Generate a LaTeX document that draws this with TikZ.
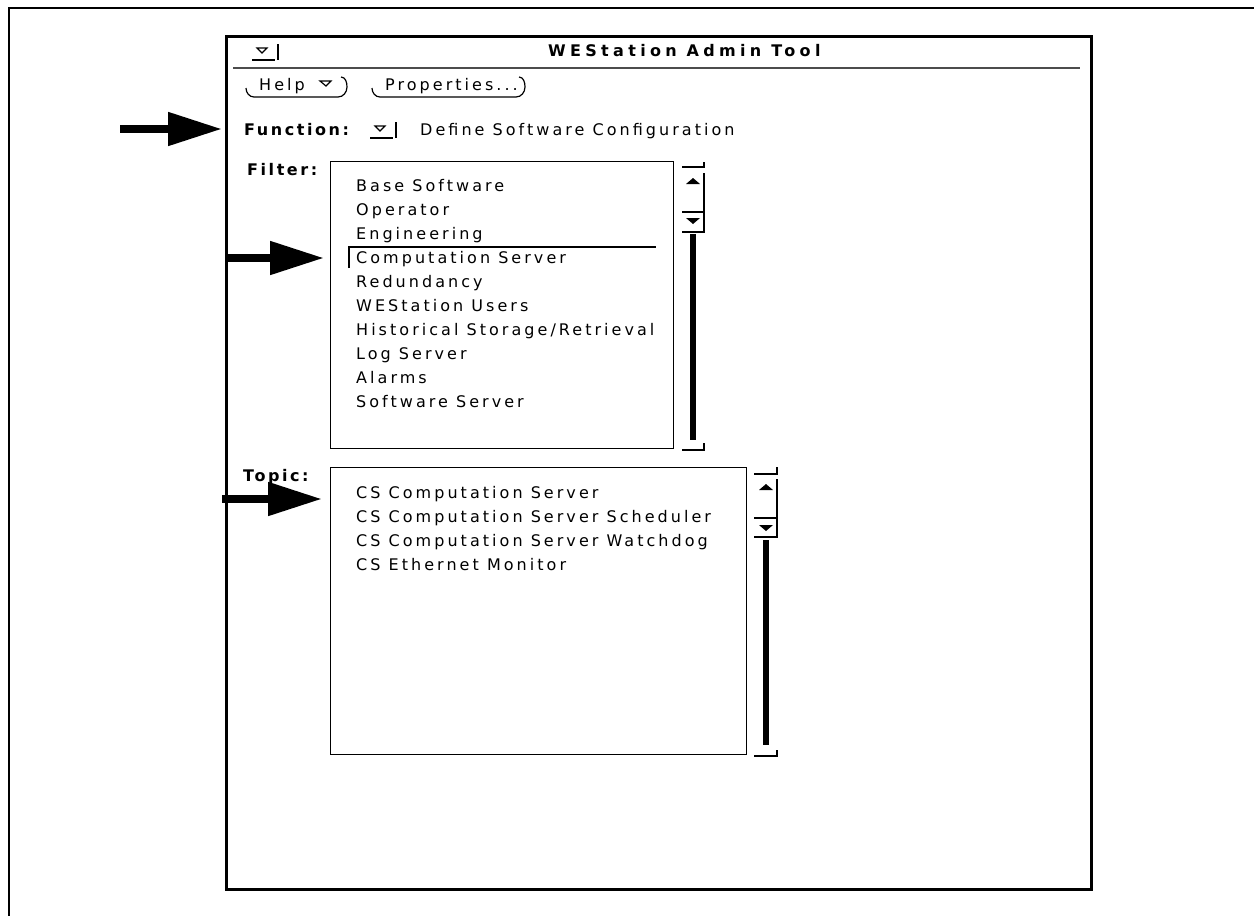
\documentclass[tikz,border=0pt]{standalone}
\usepackage{fontspec}
\usetikzlibrary{arrows.meta}
\newfontfamily\uifont{DejaVu Sans}[LetterSpace=19]
\newfontfamily\uiboldfont{DejaVu Sans Bold}[LetterSpace=16]
\newfontfamily\uititlefont{DejaVu Sans Bold}[LetterSpace=27]

\tikzset{
  uitext/.style={anchor=base west, inner sep=0pt, font=\uifont\fontsize{16}{19}\selectfont},
  uilabel/.style={anchor=base west, inner sep=0pt, font=\uiboldfont\fontsize{16}{19}\selectfont},
  uititle/.style={anchor=base west, inner sep=0pt, font=\uititlefont\fontsize{16}{19}\selectfont},
  listbox/.style={draw, line width=1.2pt, anchor=north west, inner sep=0pt},
  bigarrow/.style={line width=8pt, -{Triangle[length=54pt,width=32pt]}},
  thinline/.style={line width=1.2pt}
}

\newcommand{\menumark}[3]{% x, y, size
  \draw[thinline, shift={(#1,#2)}, scale=#3] (0,18) -- (23,18) (26,2) -- (26,18);
  \draw[thinline, shift={(#1,#2)}, scale=#3] (5,6) -- (15,6) -- (10,11) -- cycle;
}

\begin{document}
\begin{tikzpicture}[x=1pt, y=-1pt]
    \useasboundingbox (0,0) rectangle (1254,916);

    % Page frame
    \draw[line width=2pt] (9,916) -- (9,8) -- (1254,8);

    % Window
    \node[draw, line width=3pt, anchor=north west, inner sep=0pt,
          minimum width=865pt, minimum height=853pt] (win) at (225,35) {};
    \draw[line width=2pt] (227,890) -- (1092,890) -- (1092,37);

    % Title bar
    \menumark{252}{42}{1}
    \node[uititle] (title) at (548,56) {WEStation Admin Tool};
    \draw[line width=1.5pt, black!70] (233,68) -- (1080,68);

    % Buttons
    \node[uitext] (help) at (259,90) {Help};
    \draw[thinline] (320,81) -- (331,81) -- (326,86) -- cycle;
    \draw[thinline] (246,88) to[out=-90, in=180] (254,97) -- (338,97)
        to[out=0, in=-90] (347,87) to[out=90, in=0] (341,77);
    \node[uitext] (props) at (385,90) {Properties...};
    \draw[thinline] (372,88) to[out=-90, in=180] (380,97) -- (516,97)
        to[out=0, in=-90] (525,87) to[out=90, in=0] (519,77);

    % Function line
    \node[uilabel] (fnlbl) at (244,135) {Function:};
    \menumark{370}{120}{1}
    \node[uitext] (fnval) at (420,135) {Define Software Configuration};

    % Filter list
    \node[uilabel] (filterlbl) at (247,175) {Filter:};
    \node[listbox, minimum width=343pt, minimum height=287pt] (filterbox) at (330,161) {};
    \node[uitext] (f1) at (356,191) {Base Software};
    \node[uitext] (f2) at (356,215) {Operator};
    \node[uitext] (f3) at (356,239) {Engineering};
    \node[uitext] (f4) at (356,263) {Computation Server};
    \node[uitext] (f5) at (356,287) {Redundancy};
    \node[uitext] (f6) at (356,311) {WEStation Users};
    \node[uitext] (f7) at (356,335) {Historical Storage/Retrieval};
    \node[uitext] (f8) at (356,359) {Log Server};
    \node[uitext] (f9) at (356,383) {Alarms};
    \node[uitext] (f10) at (356,407) {Software Server};
    \draw[thinline] (349,268) -- (349,247) -- (656,247);

    % Filter scrollbar
    \draw[thinline] (704,162) -- (704,167) -- (682,167);
    \draw[thinline] (704,173) -- (704,232) -- (682,232);
    \draw[thinline] (682,212) -- (704,212);
    \fill (686,184) -- (700,184) -- (693,178) -- cycle;
    \fill (686,218) -- (700,218) -- (693,224) -- cycle;
    \draw[line width=6pt] (693,234) -- (693,440);
    \draw[thinline] (704,443) -- (704,450) -- (682,450);

    % Topic list
    \node[uilabel] (topiclbl) at (243,481) {Topic:};
    \node[listbox, minimum width=416pt, minimum height=287pt] (topicbox) at (330,467) {};
    \node[uitext] (t1) at (356,498) {CS Computation Server};
    \node[uitext] (t2) at (356,522) {CS Computation Server Scheduler};
    \node[uitext] (t3) at (356,546) {CS Computation Server Watchdog};
    \node[uitext] (t4) at (356,570) {CS Ethernet Monitor};

    % Topic scrollbar
    \draw[thinline] (777,467) -- (777,474) -- (754,474);
    \draw[thinline] (777,479) -- (777,537) -- (754,537);
    \draw[thinline] (754,518) -- (777,518);
    \fill (759,490) -- (773,490) -- (766,484) -- cycle;
    \fill (759,525) -- (773,525) -- (766,531) -- cycle;
    \draw[line width=6pt] (766,540) -- (766,745);
    \draw[thinline] (777,750) -- (777,756) -- (754,756);

    % Pointer arrows
    \coordinate (fntail) at (120,129);
    \coordinate (filtertail) at (225,258);
    \coordinate (topictail) at (222,499);
    \draw[bigarrow, shorten >=3pt] (fntail) -- (fntail -| win.west);
    \draw[bigarrow, shorten >=6pt] (filtertail) -- (filtertail -| filterbox.west);
    \draw[bigarrow, shorten >=8pt] (topictail) -- (topictail -| topicbox.west);
  \end{tikzpicture}
\end{document}
